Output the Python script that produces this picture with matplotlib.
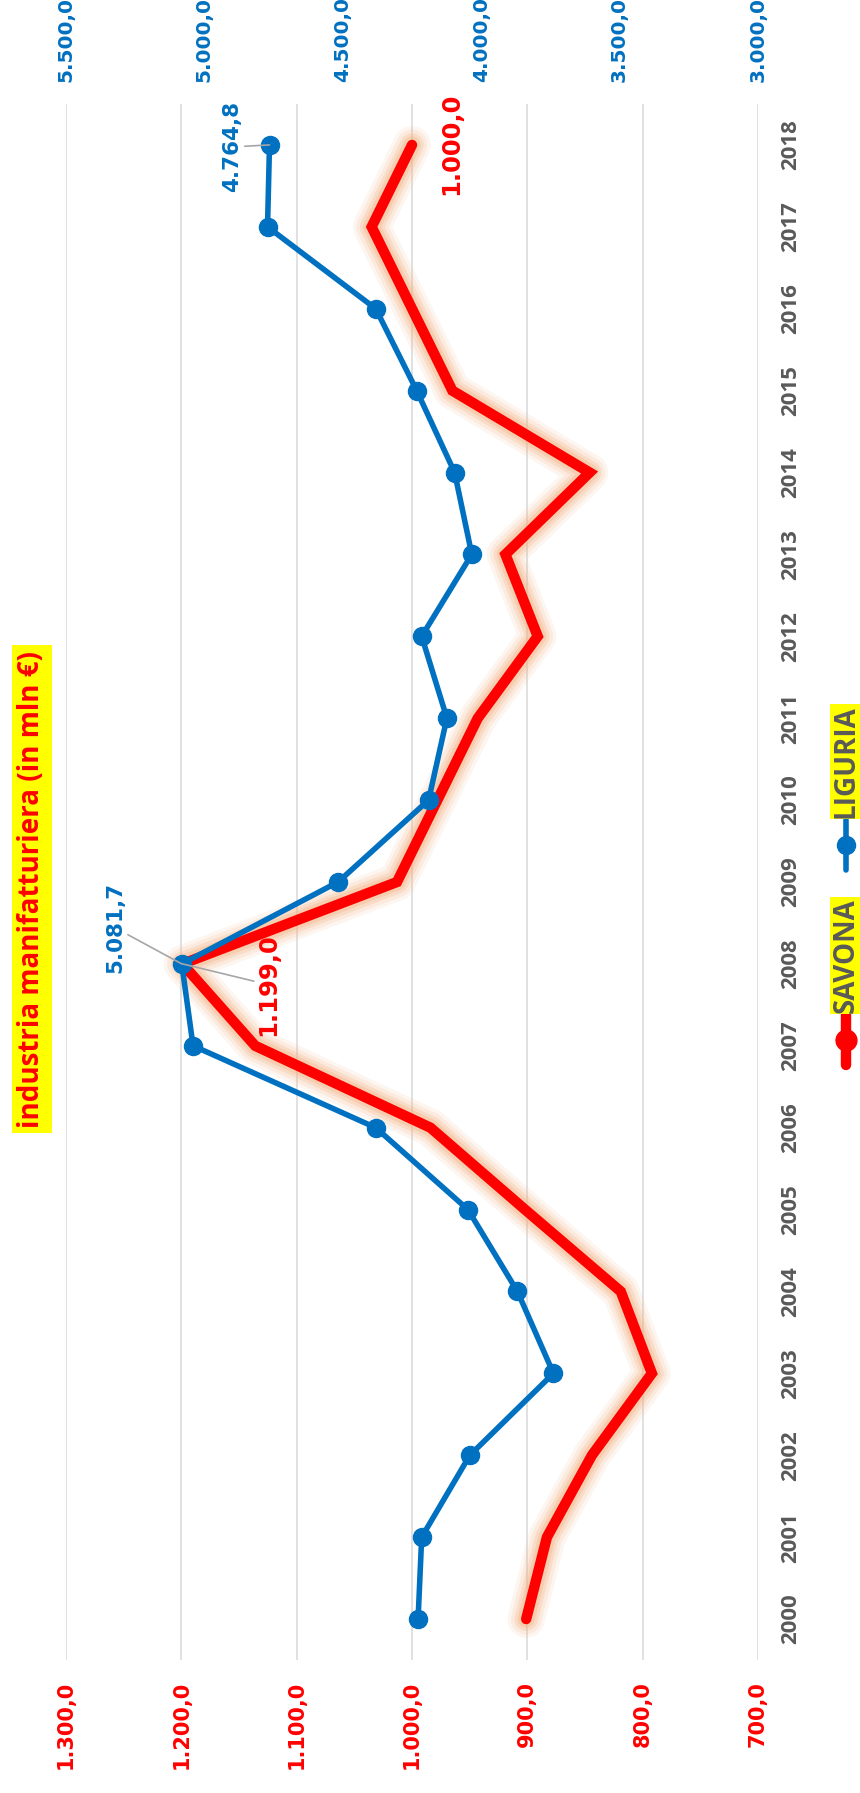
import matplotlib
matplotlib.use("Agg")
import matplotlib.pyplot as plt
from matplotlib.lines import Line2D

# dati: industria manifatturiera (in mln €)
anni = list(range(2000, 2019))
savona = [901, 883, 844, 792, 819, 902, 984, 1136, 1199.0, 1013,
          978, 943, 891, 919, 846, 965, 1000, 1035, 1000.0]
liguria = [4228, 4215, 4041, 3739, 3869, 4048, 4381, 5041, 5081.7, 4517,
           4190, 4124, 4215, 4034, 4096, 4233, 4381, 4772, 4764.8]
tick_sav = [700, 800, 900, 1000, 1100, 1200, 1300]
tick_lig = [3000, 3500, 4000, 4500, 5000, 5500]

ROSSO = '#FF0000'
BLU = '#0070C0'
GRIGIO = '#595959'
GIALLO = '#FFFF00'
TITOLO_FONT = 'Open Sans'


def it_num(v):
    # formato italiano 1.234,5
    s = f'{v:,.1f}'
    return s.replace(',', 'X').replace('.', ',').replace('X', '.')


W, H = 860, 1793
fig = plt.figure(figsize=(W / 100, H / 100), dpi=100)
ax = fig.add_axes([66 / W, 1 - 1660 / H, (758 - 66) / W, (1660 - 104) / H])

# asse principale (SAVONA) - valori in orizzontale, anni in verticale
ax.set_xlim(1300, 700)
ax.set_ylim(1999.5, 2018.5)
for sp in ax.spines.values():
    sp.set_visible(False)
ax.set_axisbelow(True)
ax.grid(axis='x', color='#D9D9D9', lw=1.1)
ax.grid(axis='y', visible=False)

ax.set_xticks(tick_sav)
ax.set_xticklabels([it_num(v) for v in tick_sav], rotation=90, color=ROSSO,
                   fontweight='bold', fontsize=15)
ax.tick_params(axis='x', length=0, pad=15)

ax.set_yticks(anni)
ax.set_yticklabels([str(a) for a in anni], rotation=90, va='center',
                   color=GRIGIO, fontweight='bold', fontsize=16, family=TITOLO_FONT)
ax.tick_params(axis='y', left=False, right=False, labelleft=False,
               labelright=True, length=0, pad=16)

# effetto alone arancione attorno alla linea rossa
for lw, a in [(27, 0.12), (22, 0.16), (17, 0.24), (12.5, 0.35)]:
    ax.plot(savona, anni, color='#F4B183', lw=lw, alpha=a,
            solid_capstyle='round', solid_joinstyle='round')
ax.plot(savona, anni, color=ROSSO, lw=7.5, solid_capstyle='round',
        solid_joinstyle='miter')

# asse secondario (LIGURIA)
ax2 = ax.twiny()
ax2.set_xlim(5500, 3000)
for sp in ax2.spines.values():
    sp.set_visible(False)
ax2.set_xticks(tick_lig)
ax2.set_xticklabels([it_num(v) for v in tick_lig], rotation=90, color=BLU,
                    fontweight='bold', fontsize=14.5)
ax2.tick_params(axis='x', length=0, pad=16)
ax2.plot(liguria, anni, color=BLU, lw=4, marker='o', ms=13,
         markerfacecolor=BLU, markeredgecolor=BLU)

# etichette dati
leader = dict(arrowstyle='-', color='#A6A6A6', lw=1.2, shrinkA=0, shrinkB=0)
ax2.annotate(it_num(liguria[-1]), xy=(liguria[-1], anni[-1]), xytext=(-27, -1.4),
             textcoords='offset points', rotation=90, ha='center', va='center',
             color=BLU, fontweight='bold', fontsize=15.5, arrowprops=leader)
ax2.annotate(it_num(liguria[8]), xy=(liguria[8], anni[8]), xytext=(-48, 26),
             textcoords='offset points', rotation=90, ha='center', va='center',
             color=BLU, fontweight='bold', fontsize=15.5, arrowprops=leader)
ax2.annotate(it_num(savona[-1]), xy=(savona[-1], anni[-1]), xycoords=ax.transData,
             xytext=(28, 0.5), textcoords='offset points', rotation=90,
             ha='center', va='center', color=ROSSO, fontweight='bold', fontsize=17.5)
ax2.annotate(it_num(savona[8]), xy=(savona[8], anni[8]), xycoords=ax.transData,
             xytext=(62, -15), textcoords='offset points', rotation=90,
             ha='center', va='center', color=ROSSO, fontweight='bold', fontsize=17.5,
             arrowprops=leader)

# titolo
fig.text(32 / W, 1 - 889 / H, 'industria manifatturiera (in mln €)', rotation=90,
         ha='center', va='center', color=ROSSO, fontsize=20, fontweight='bold',
         family=TITOLO_FONT,
         bbox=dict(boxstyle='square,pad=0.2', fc=GIALLO, ec='none'))

# legenda
def voce_legenda(y_mark, y_txt, nome, col, lw, ms):
    x = 846 / W
    fig.add_artist(Line2D([x, x], [1 - (y_mark + 25) / H, 1 - (y_mark - 25) / H],
                          color=col, lw=lw, solid_capstyle='round'))
    fig.add_artist(Line2D([x], [1 - y_mark / H], color=col, marker='o', ms=ms, lw=0))
    fig.text(x, 1 - y_txt / H, nome, rotation=90, ha='center', va='bottom',
             color=GRIGIO, fontsize=20, fontweight='bold', family=TITOLO_FONT,
             bbox=dict(boxstyle='square,pad=0.05', fc=GIALLO, ec='none'))

voce_legenda(845, 818, 'LIGURIA', BLU, 4, 13)
voce_legenda(1040, 1013, 'SAVONA', ROSSO, 7.5, 15)

fig.savefig('out.png', dpi=100, facecolor='white')
